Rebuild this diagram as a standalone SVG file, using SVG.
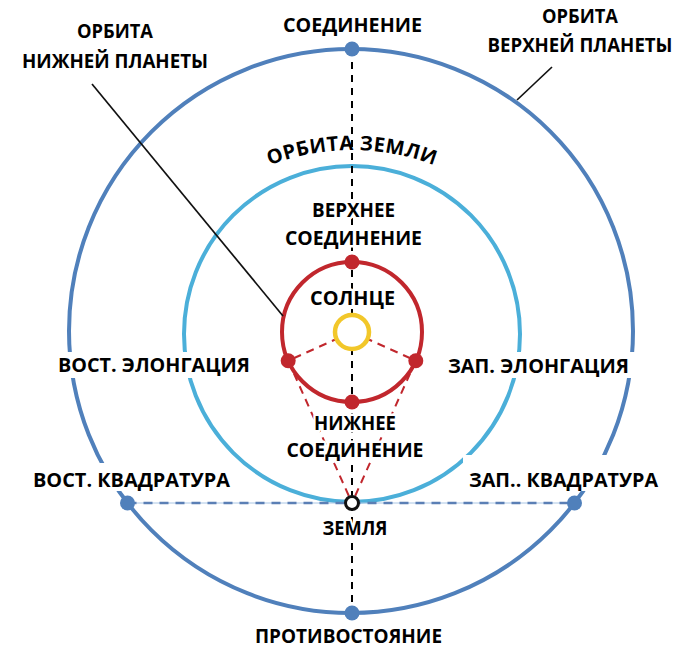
<svg xmlns="http://www.w3.org/2000/svg" width="696" height="654" viewBox="0 0 696 654">
<style>
text{font-family:"Open Sans","DejaVu Sans",sans-serif;font-weight:700;font-size:20px;fill:#000;text-anchor:middle}
.halo{stroke:#fff;stroke-width:5;paint-order:stroke;stroke-linejoin:round}
.outer{fill:none;stroke:#5080bb;stroke-width:4}
.earthorb{fill:none;stroke:#4bafd9;stroke-width:4}
.inner{fill:none;stroke:#c1272d;stroke-width:4}
.bdash{stroke:#000;stroke-width:2;stroke-dasharray:7 6;fill:none}
.rdash{stroke:#c1272d;stroke-width:2;stroke-dasharray:8 6;fill:none}
.hdash{stroke:#5b7fb5;stroke-width:2.5;stroke-dasharray:9 7;fill:none}
.lead{stroke:#111;stroke-width:1.7;fill:none}
.bg{fill:#fff}
.odot{fill:#5080bb}
.rdot{fill:#c1272d}
</style>
<rect width="696" height="654" fill="#fff"/>
<g id="orbits">
<circle id="outer-orbit" class="outer" cx="351" cy="331" r="282"/>
<circle id="earth-orbit" class="earthorb" cx="352" cy="334" r="168"/>
<circle id="inner-orbit" class="inner" cx="352" cy="332" r="70"/>
</g>
<g id="connectors">
<line x1="127.5" y1="503" x2="574.5" y2="503" stroke="#aac6e4" stroke-width="1"/>
<line class="hdash" x1="127.5" y1="503" x2="574.5" y2="503"/>
<line class="bdash" x1="352" y1="49" x2="352" y2="613"/>
<line class="rdash" x1="352" y1="332" x2="288.2" y2="360.7"/>
<line class="rdash" x1="352" y1="332" x2="415.8" y2="360.7"/>
<line class="rdash" x1="288.2" y1="360.7" x2="352" y2="503"/>
<line class="rdash" x1="415.8" y1="360.7" x2="352" y2="503"/>
<line class="lead" x1="92" y1="84" x2="283" y2="316"/>
<line class="lead" x1="552" y1="67" x2="517" y2="100"/>
</g>
<g id="label-backgrounds">
<rect class="bg" x="52" y="352" width="204" height="26"/>
<rect class="bg" x="442" y="352" width="193" height="26"/>
<rect class="bg" x="28" y="463" width="208" height="28"/>
<rect class="bg" x="463" y="455" width="201" height="36"/>
</g>
<g id="sun">
<circle cx="352" cy="332" r="17" fill="#fff" stroke="#f2c72a" stroke-width="4.5"/>
</g>
<g id="points">
<circle id="conjunction" class="odot" cx="352" cy="49" r="7.5"/>
<circle id="opposition" class="odot" cx="352" cy="613" r="7.5"/>
<circle id="east-quadrature" class="odot" cx="127.5" cy="503" r="7.5"/>
<circle id="west-quadrature" class="odot" cx="574.5" cy="503" r="7.5"/>
<circle id="superior-conjunction" class="rdot" cx="352" cy="262" r="7.5"/>
<circle id="inferior-conjunction" class="rdot" cx="352" cy="402" r="7.5"/>
<circle id="east-elongation" class="rdot" cx="288.2" cy="360.7" r="7.5"/>
<circle id="west-elongation" class="rdot" cx="415.8" cy="360.7" r="7.5"/>
<circle id="earth" cx="352" cy="503" r="6.5" fill="#fff" stroke="#111" stroke-width="3"/>
</g>
<defs>
<path id="arcEarth" d="M189.4,217.4 A230,230 0 0,1 514.6,217.4"/>
</defs>
<g id="labels">
<text x="352.5" y="32" textLength="139" lengthAdjust="spacingAndGlyphs">СОЕДИНЕНИЕ</text>
<text x="115" y="38" textLength="76" lengthAdjust="spacingAndGlyphs">ОРБИТА</text>
<text x="115" y="68" textLength="186" lengthAdjust="spacingAndGlyphs">НИЖНЕЙ ПЛАНЕТЫ</text>
<text x="580" y="23" textLength="76" lengthAdjust="spacingAndGlyphs">ОРБИТА</text>
<text x="580" y="52" textLength="185" lengthAdjust="spacingAndGlyphs">ВЕРХНЕЙ ПЛАНЕТЫ</text>
<text font-size="22" font-weight="800" letter-spacing="0.5"><textPath href="#arcEarth" startOffset="50%">ОРБИТА ЗЕМЛИ</textPath></text>
<text class="halo" x="353.5" y="217" textLength="83" lengthAdjust="spacingAndGlyphs">ВЕРХНЕЕ</text>
<text class="halo" x="353.5" y="245" textLength="137" lengthAdjust="spacingAndGlyphs">СОЕДИНЕНИЕ</text>
<text class="halo" x="352.5" y="305" textLength="85" lengthAdjust="spacingAndGlyphs">СОЛНЦЕ</text>
<text x="154" y="372" textLength="192" lengthAdjust="spacingAndGlyphs">ВОСТ. ЭЛОНГАЦИЯ</text>
<text x="538.5" y="373" textLength="181" lengthAdjust="spacingAndGlyphs">ЗАП. ЭЛОНГАЦИЯ</text>
<text class="halo" x="355" y="430" textLength="82" lengthAdjust="spacingAndGlyphs">НИЖНЕЕ</text>
<text class="halo" x="355" y="457" textLength="137" lengthAdjust="spacingAndGlyphs">СОЕДИНЕНИЕ</text>
<text x="131.5" y="487" textLength="197" lengthAdjust="spacingAndGlyphs">ВОСТ. КВАДРАТУРА</text>
<text x="563.5" y="487" textLength="189" lengthAdjust="spacingAndGlyphs">ЗАП.. КВАДРАТУРА</text>
<text class="halo" x="355" y="535" textLength="65" lengthAdjust="spacingAndGlyphs">ЗЕМЛЯ</text>
<text x="348.5" y="643" textLength="187" lengthAdjust="spacingAndGlyphs">ПРОТИВОСТОЯНИЕ</text>
</g>
</svg>
